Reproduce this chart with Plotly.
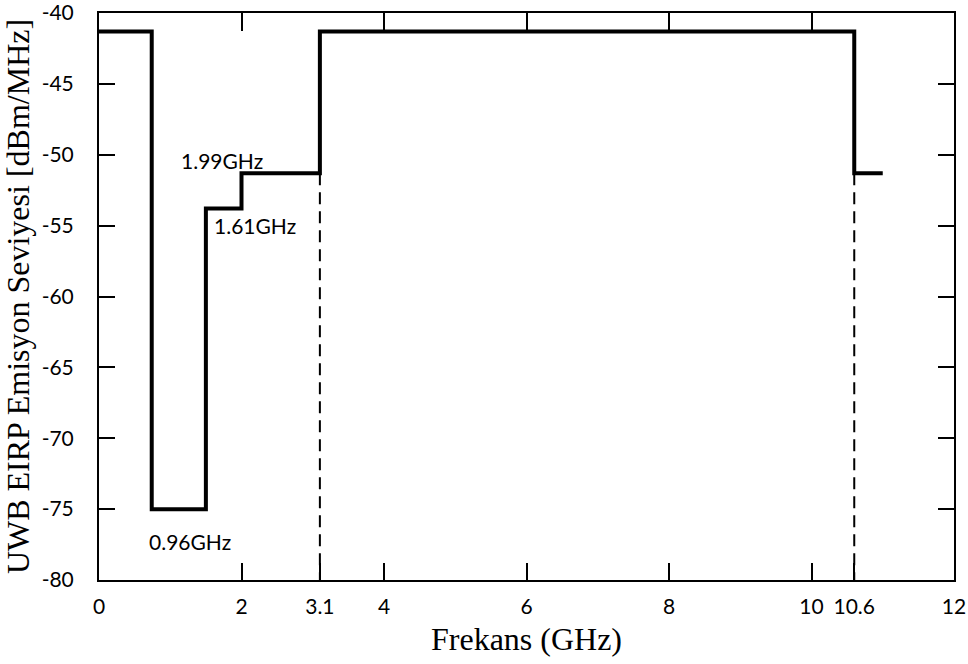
import plotly.graph_objects as go

# Step profile (frequency in GHz, level in dBm/MHz) as drawn
freq = [0, 0.74, 1.5, 2.0, 3.1, 10.6, 11.0]
level = [-41.3, -75, -53.8, -51.3, -41.3, -51.3, -51.3]

# Dashed band markers
band_edges = [3.1, 10.6]
band_low = -51.3

x_ticks = [0, 2, 3.1, 4, 6, 8, 10, 10.6, 12]
x_ticklabels = ["0", "2", "3.1", "4", "6", "8", "10", "10.6", "12"]
top_ticks = [2, 4, 6, 8, 10]
y_ticks = [-80, -75, -70, -65, -60, -55, -50, -45, -40]
y_ticklabels = ["-80", "-75", "-70", "-65", "-60", "-55", "-50", "-45", "-40"]

notes = ["1.99GHz", "1.61GHz", "0.96GHz"]
note_x = [1.73, 2.19, 1.28]
note_y = [-50.4, -55.0, -77.3]

TICKFONT = dict(family="Lato, Open Sans, sans-serif", size=21, color="black")
TITLEFONT = dict(family="Liberation Serif, Times New Roman, serif", size=32, color="black")

fig = go.Figure()

for xe in band_edges:
    fig.add_trace(go.Scatter(x=[xe, xe], y=[band_low, -80], mode="lines",
                             line=dict(color="black", width=2, dash="12px,7px"),
                             showlegend=False, hoverinfo="skip"))

fig.add_trace(go.Scatter(x=freq, y=level, mode="lines", line_shape="hv",
                         line=dict(color="black", width=4),
                         showlegend=False))

# invisible trace for top axis
fig.add_trace(go.Scatter(x=[0, 12], y=[-80, -40], xaxis="x2", mode="markers",
                         marker=dict(opacity=0), showlegend=False, hoverinfo="skip"))

for t, xx, yy in zip(notes, note_x, note_y):
    fig.add_annotation(x=xx, y=yy, text=t, showarrow=False,
                       font=dict(family="Lato, Open Sans, sans-serif", size=21, color="black"))

fig.update_layout(
    width=968, height=664,
    margin=dict(l=99, r=14, t=13, b=84),
    plot_bgcolor="white", paper_bgcolor="white",
    xaxis=dict(range=[0, 12], tickvals=x_ticks, ticktext=x_ticklabels,
               ticks="inside", ticklen=17, tickwidth=2, tickcolor="black",
               showline=True, linecolor="black", linewidth=2, mirror=True,
               showgrid=False, zeroline=False, tickfont=TICKFONT,
               ticklabelstandoff=7, automargin=False, ticklabeloverflow="allow",
               title=dict(text="Frekans (GHz)", font=TITLEFONT, standoff=10)),
    xaxis2=dict(range=[0, 12], overlaying="x", side="top", tickvals=top_ticks,
                ticks="inside", ticklen=18, tickwidth=2, tickcolor="black",
                showticklabels=False, showgrid=False, zeroline=False,
                showline=True, linecolor="black", linewidth=2, automargin=False),
    yaxis=dict(range=[-80, -40], tickvals=y_ticks, ticktext=y_ticklabels,
               ticks="inside", ticklen=16, tickwidth=2, tickcolor="black",
               showline=True, linecolor="black", linewidth=2, mirror="ticks",
               showgrid=False, zeroline=False, tickfont=TICKFONT,
               ticklabelstandoff=19, automargin=False, ticklabeloverflow="allow",
               title=dict(text="UWB EIRP Emisyon Seviyesi [dBm/MHz]", font=TITLEFONT, standoff=7)),
)

fig.write_html("out.html")
